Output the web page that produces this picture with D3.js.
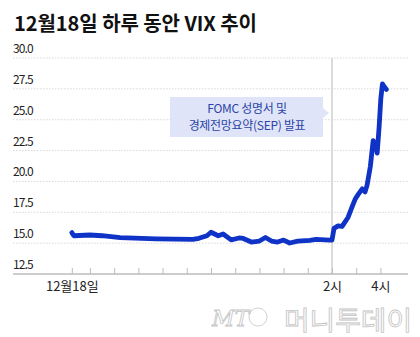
<!DOCTYPE html>
<html>
<head>
<meta charset="utf-8">
<script src="https://cdn.jsdelivr.net/npm/d3@7"></script>
<style>
  body { margin: 0; background: #fff; }
  svg { display: block; font-family: "Noto Sans CJK KR", "Noto Sans", sans-serif; }
</style>
</head>
<body>
<div id="chart"></div>
<script>
// VIX intraday on Dec 18 (ET)
const times = ["03:15","03:20","04:00","04:30","05:15","06:45","08:15","08:30","08:50","09:00",
  "09:18","09:30","09:50","10:10","10:20","10:40","11:00","11:15","11:30","11:45",
  "12:00","12:15","12:35","13:05","13:20","13:55","14:00","14:05","14:15","14:25",
  "14:30","14:40","14:50","14:58","15:05","15:15","15:22","15:27","15:35","15:42",
  "15:48","15:52","15:57","16:01","16:05","16:10","16:15"];
const vix = [15.85,15.6,15.66,15.6,15.44,15.34,15.3,15.39,15.6,15.88,
  15.6,15.74,15.26,15.42,15.38,15.09,15.17,15.46,15.17,15.09,
  15.25,15.01,15.17,15.23,15.3,15.25,15.25,16.2,16.4,16.35,
  16.6,17.1,17.95,18.6,18.95,19.4,19.15,19.7,21.2,23.3,
  23.05,22.3,24.5,26.7,27.9,27.65,27.45];
const yTicks = [12.5, 15, 17.5, 20, 22.5, 25, 27.5, 30];
const xTicks = [3.25, 4, 5, 6, 7, 8, 9, 10, 11, 12, 13, 14, 15, 16];
const xTickLabels = {3.25: "12월18일", 14: "2시", 16: "4시"};
const title = "12월18일 하루 동안 VIX 추이";
const noteLines = ["FOMC 성명서 및", "경제전망요약(SEP) 발표"];

const W = 420, H = 337;
const svg = d3.select("#chart").append("svg").attr("width", W).attr("height", H);

const hours = s => { const p = s.split(":"); return +p[0] + (+p[1]) / 60; };
const data = times.map((t, i) => ({h: hours(t), v: vix[i]}));

const x = d3.scaleLinear().domain([0.82, 17.14]).range([13, 408]);
const y = d3.scaleLinear().domain([12.5, 30]).range([274, 58]);

// title
svg.append("text")
  .attr("x", 14).attr("y", 31)
  .attr("font-size", 20).attr("font-weight", "bold").attr("fill", "#111")
  .attr("textLength", 243).attr("lengthAdjust", "spacing")
  .text(title);

// grid + y labels
const grid = svg.append("g");
yTicks.filter(d => d > 12.5).forEach(d => {
  grid.append("line")
    .attr("x1", 13).attr("x2", 408)
    .attr("y1", y(d)).attr("y2", y(d))
    .attr("stroke", "#d8d8d8").attr("stroke-width", 1)
    .attr("stroke-dasharray", "1.5,1.5");
});
yTicks.forEach(d => {
  svg.append("text")
    .attr("x", 13).attr("y", y(d) - 5)
    .attr("font-size", 12).attr("fill", "#222")
    .attr("letter-spacing", "-0.9")
    .text(d3.format(".1f")(d));
});

// 2pm marker
svg.append("line")
  .attr("x1", x(14)).attr("x2", x(14))
  .attr("y1", y(30)).attr("y2", y(12.5))
  .attr("stroke", "#cfcfcf").attr("stroke-width", 1.5);

// x axis
const xAxis = d3.axisBottom(x).tickValues(xTicks).tickSizeInner(-6).tickSizeOuter(0)
  .tickFormat(d => xTickLabels[d] || "");
const gx = svg.append("g").attr("transform", `translate(0,${y(12.5)})`).call(xAxis);
gx.select(".domain").attr("stroke", "#9a9a9a").attr("d", `M13,0H408`);
gx.selectAll(".tick line").attr("stroke", "#bdbdbd");
gx.selectAll(".tick text")
  .attr("y", 8).attr("font-size", 13).attr("fill", "#222")
  .attr("font-family", "'Noto Sans CJK KR', sans-serif");

// annotation box
const note = svg.append("g");
note.append("rect")
  .attr("x", 170).attr("y", 97).attr("width", 153).attr("height", 40)
  .attr("fill", "#dfe4f8");
note.append("path")
  .attr("d", "M323,108L329,113L323,118Z")
  .attr("fill", "#dfe4f8");
noteLines.forEach((t, i) => {
  note.append("text")
    .attr("x", 247).attr("y", 112.5 + i * 17.6)
    .attr("text-anchor", "middle")
    .attr("font-size", 12).attr("fill", "#2b44a6")
    .attr("letter-spacing", "-0.3")
    .text(t);
});

// VIX line
const line = d3.line().x(d => x(d.h)).y(d => y(d.v)).curve(d3.curveLinear);
svg.append("path")
  .datum(data)
  .attr("d", line)
  .attr("fill", "none")
  .attr("stroke", "#0f33c6")
  .attr("stroke-width", 4.8)
  .attr("stroke-linejoin", "round")
  .attr("stroke-linecap", "round");

// watermark
const wm = svg.append("g").attr("fill", "#fff").attr("stroke", "#c4c4c4").attr("stroke-width", 0.8);
wm.append("text")
  .attr("x", 212).attr("y", 326)
  .attr("font-size", 22).attr("font-style", "italic").attr("font-family", "'DejaVu Serif', serif")
  .text("MT");
wm.append("circle")
  .attr("cx", 258).attr("cy", 317).attr("r", 9)
  .attr("fill", "none");
wm.append("text")
  .attr("x", 284).attr("y", 330)
  .attr("font-size", 26)
  .attr("textLength", 128).attr("lengthAdjust", "spacingAndGlyphs")
  .text("머니투데이");
</script>
</body>
</html>
